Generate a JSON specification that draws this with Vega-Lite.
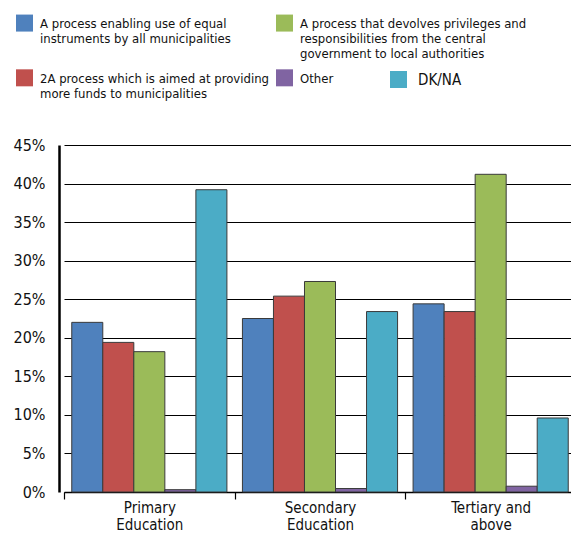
{
  "$schema": "https://vega.github.io/schema/vega-lite/v6.json",
  "width": 512,
  "height": 347,
  "autosize": {"type": "none"},
  "padding": {"left": 59, "top": 145, "right": 0, "bottom": 58},
  "background": "white",
  "config": {
    "view": {"stroke": null},
    "font": "DejaVu Sans Condensed, Roboto, sans-serif",
    "axis": {"labelFont": "DejaVu Sans Condensed, Roboto, sans-serif", "labelColor": "#111"},
    "legend": {"labelFont": "DejaVu Sans Condensed, Roboto, sans-serif", "labelColor": "#111"}
  },
  "data": {
    "values": [
      {"group": "Primary|Education", "series": "A process enabling use of equal|instruments by all municipalities", "value": 22.0},
      {"group": "Primary|Education", "series": "2A process which is aimed at providing|more funds to municipalities", "value": 19.4},
      {"group": "Primary|Education", "series": "A process that devolves privileges and|responsibilities from the central|government to local authorities", "value": 18.2},
      {"group": "Primary|Education", "series": "Other", "value": 0.3},
      {"group": "Primary|Education", "series": "DK/NA", "value": 39.2},
      {"group": "Secondary|Education", "series": "A process enabling use of equal|instruments by all municipalities", "value": 22.5},
      {"group": "Secondary|Education", "series": "2A process which is aimed at providing|more funds to municipalities", "value": 25.4},
      {"group": "Secondary|Education", "series": "A process that devolves privileges and|responsibilities from the central|government to local authorities", "value": 27.3},
      {"group": "Secondary|Education", "series": "Other", "value": 0.45},
      {"group": "Secondary|Education", "series": "DK/NA", "value": 23.4},
      {"group": "Tertiary and|above", "series": "A process enabling use of equal|instruments by all municipalities", "value": 24.4},
      {"group": "Tertiary and|above", "series": "2A process which is aimed at providing|more funds to municipalities", "value": 23.4},
      {"group": "Tertiary and|above", "series": "A process that devolves privileges and|responsibilities from the central|government to local authorities", "value": 41.2},
      {"group": "Tertiary and|above", "series": "Other", "value": 0.75},
      {"group": "Tertiary and|above", "series": "DK/NA", "value": 9.6}
    ]
  },
  "encoding": {
    "x": {
      "field": "group", "type": "nominal",
      "sort": ["Primary|Education", "Secondary|Education", "Tertiary and|above"],
      "scale": {"paddingInner": 0, "paddingOuter": 0, "range": [5, 517]},
      "axis": {"title": null, "labelAngle": 0, "tickBand": "extent", "labelExpr": "split(datum.label, '|')",
        "domainColor": "#000", "domainWidth": 1.5, "tickColor": "#000", "tickWidth": 1.2, "tickSize": 7,
        "labelFontSize": 15, "labelPadding": 1, "grid": false, "labelLineHeight": 17}
    },
    "xOffset": {
      "field": "series", "type": "nominal",
      "scale": {"domain": [
        "A process enabling use of equal|instruments by all municipalities",
        "2A process which is aimed at providing|more funds to municipalities",
        "A process that devolves privileges and|responsibilities from the central|government to local authorities",
        "Other", "DK/NA"], "paddingInner": 0, "paddingOuter": 0.25}
    },
    "y": {
      "field": "value", "type": "quantitative",
      "scale": {"domain": [0, 45], "nice": false},
      "axis": {"title": null, "values": [0, 5, 10, 15, 20, 25, 30, 35, 40, 45], "labelExpr": "datum.value + '%'",
        "grid": true, "gridColor": "#000", "gridWidth": 1, "domainColor": "#000", "domainWidth": 2.5,
        "ticks": false, "labelPadding": 14, "labelFontSize": 16}
    }
  },
  "layer": [
    {
      "transform": [{"filter": "datum.series != 'DK/NA'"}],
      "mark": {"type": "bar", "stroke": "#3a3a3a", "strokeWidth": 1},
      "encoding": {
        "color": {
          "field": "series", "type": "nominal",
          "scale": {"domain": [
            "A process enabling use of equal|instruments by all municipalities",
            "2A process which is aimed at providing|more funds to municipalities",
            "A process that devolves privileges and|responsibilities from the central|government to local authorities",
            "Other"], "range": ["#4F81BD", "#C0504D", "#9BBB59", "#8064A2"]},
          "legend": {
            "orient": "none", "legendX": -43, "legendY": -126, "columns": 2, "title": null,
            "symbolType": "M-1,-1.55H1V0.45H-1Z", "symbolSize": 289, "symbolStrokeWidth": 0, "symbolOpacity": 1,
            "labelFontSize": 13, "labelLimit": 400, "labelOffset": 7,
            "labelExpr": "indexof(datum.label, 'equal') >= 0 ? split(datum.label + '| ', '|') : split(datum.label, '|')",
            "labelBaseline": "alphabetic",
            "columnPadding": 6, "rowPadding": 8, "padding": 0,
            "encode": {"labels": {"update": {"lineHeight": {"value": 16.5}}}}
          }
        }
      }
    },
    {
      "transform": [{"filter": "datum.series == 'DK/NA'"}],
      "mark": {"type": "bar", "stroke": "#3a3a3a", "strokeWidth": 1},
      "encoding": {
        "color": {
          "field": "series", "type": "nominal",
          "scale": {"domain": ["DK/NA"], "range": ["#4BACC6"]},
          "legend": {
            "orient": "none", "legendX": 331, "legendY": -74, "title": null,
            "symbolType": "square", "symbolSize": 289, "symbolStrokeWidth": 0, "symbolOpacity": 1,
            "labelFontSize": 15, "labelOffset": 11, "padding": 0
          }
        }
      }
    }
  ],
  "resolve": {"scale": {"color": "independent"}}
}
